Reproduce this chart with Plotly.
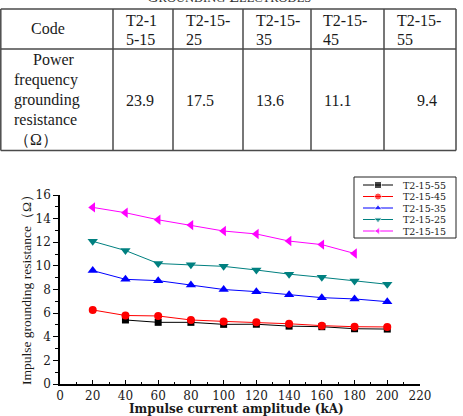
import plotly.graph_objects as go

W, H = 463, 416

# ---- table data ----
table_title = "GROUNDING ELECTRODES"
code_header = "Code"
codes_lines = [["T2-1", "5-15"], ["T2-15-", "25"], ["T2-15-", "35"], ["T2-15-", "45"], ["T2-15-", "55"]]
row_label_lines = ["Power", "frequency", "grounding", "resistance", "（Ω）"]
pf_resistance = ["23.9", "17.5", "13.6", "11.1", "9.4"]

# ---- chart data ----
series_names = ["T2-15-55", "T2-15-45", "T2-15-35", "T2-15-25", "T2-15-15"]
x55 = [40, 60, 80, 100, 120, 140, 160, 180, 200]
r55 = [5.42, 5.22, 5.22, 5.05, 5.06, 4.9, 4.85, 4.68, 4.65]
x45 = [20, 40, 60, 80, 100, 120, 140, 160, 180, 200]
r45 = [6.27, 5.8, 5.76, 5.42, 5.3, 5.22, 5.1, 4.94, 4.85, 4.83]
x35 = [20, 40, 60, 80, 100, 120, 140, 160, 180, 200]
r35 = [9.6, 8.86, 8.75, 8.38, 8.0, 7.82, 7.56, 7.31, 7.2, 6.97]
x25 = [20, 40, 60, 80, 100, 120, 140, 160, 180, 200]
r25 = [12.08, 11.3, 10.2, 10.1, 9.96, 9.65, 9.3, 9.03, 8.72, 8.44]
x15 = [20, 40, 60, 80, 100, 120, 140, 160, 180]
r15 = [14.95, 14.5, 13.9, 13.45, 12.95, 12.7, 12.1, 11.8, 11.05]

xs = [x55, x45, x35, x25, x15]
ys = [r55, r45, r35, r25, r15]
colors = ["#000000", "#FF0000", "#0000FF", "#008080", "#FF00FF"]
symbols = ["square", "circle", "triangle-up", "triangle-down", "triangle-left"]
msizes = [7, 8, 9, 9, 9]

SERIF = "Liberation Serif"
WIDE = "DejaVu Serif"
TXT = "#1a1a1a"


def px(x):
    return x / W


def py(y):
    return 1 - y / H


fig = go.Figure()

for name, x, y, c, s, ms in zip(series_names, xs, ys, colors, symbols, msizes):
    fig.add_trace(go.Scatter(
        x=x, y=y, name=name, mode="lines+markers",
        line=dict(color=c, width=1),
        marker=dict(symbol=s, size=ms, color=c),
        showlegend=False, xaxis="x", yaxis="y",
    ))

# manual legend on a pixel-coordinate overlay axis
leg_box = (354, 177, 456, 238)
leg_rows = [185, 196.5, 208, 219.5, 231]
for name, c, s, ly in zip(series_names, colors, symbols, leg_rows):
    fig.add_trace(go.Scatter(
        x=[363, 378, 393], y=[ly, ly, ly], mode="lines+markers",
        line=dict(color=c, width=1),
        marker=dict(symbol=s, size=[0, 7, 0], color=c),
        showlegend=False, xaxis="x2", yaxis="y2", hoverinfo="skip",
    ))

shapes = []
annotations = []

# legend box and texts
shapes.append(dict(type="rect", xref="paper", yref="paper",
                   x0=px(leg_box[0]), x1=px(leg_box[2]), y0=py(leg_box[1]), y1=py(leg_box[3]),
                   line=dict(color="#222", width=1), fillcolor="rgba(0,0,0,0)"))
for name, ly in zip(series_names, leg_rows):
    annotations.append(dict(text=name, x=px(401), y=py(ly), xref="paper", yref="paper",
                            xanchor="left", yanchor="middle", showarrow=False,
                            font=dict(family=WIDE, size=9.5, color=TXT)))

# table grid
col_x = [0.8, 113, 173, 243, 311, 384, 456]
row_y = [9, 49, 150.5]
lc = "#4a4a4a"
for yy in row_y:
    shapes.append(dict(type="line", xref="paper", yref="paper",
                       x0=px(col_x[0]), x1=px(col_x[-1]), y0=py(yy), y1=py(yy),
                       line=dict(color=lc, width=1.5)))
for xx in col_x:
    shapes.append(dict(type="line", xref="paper", yref="paper",
                       x0=px(xx), x1=px(xx), y0=py(row_y[0]), y1=py(row_y[-1]),
                       line=dict(color=lc, width=1.5)))

tfont = dict(family=SERIF, size=16, color=TXT)


def ann(text, x, y, anchor="left", font=tfont):
    annotations.append(dict(text=text, x=px(x), y=py(y), xref="paper", yref="paper",
                            xanchor=anchor, yanchor="middle", showarrow=False, font=font))


# table title (cut at top edge)
ann("G<span style='font-size:12.5px'>ROUNDING</span> E<span style='font-size:12.5px'>LECTRODES</span>",
    229, -3, anchor="center", font=dict(family=SERIF, size=16, color="#333"))

ann(code_header, 48, 29, anchor="center")
text_left = [124, 184, 254, 321, 395]
for lines, xl in zip(codes_lines, text_left):
    ann(lines[0], xl, 20)
    ann(lines[1], xl, 39.5)

label_x = [31, 12, 12, 12, 12]
label_y = [60, 80, 100, 119.5, 139]
for t, xl, yl in zip(row_label_lines, label_x, label_y):
    ann(t, xl, yl)

val_x = [124, 184, 254, 322, 415]
for v, xl in zip(pf_resistance, val_x):
    ann(v, xl, 100)

# axis titles
ann("<b>Impulse current amplitude (kA)</b>", 236, 408.5, anchor="center",
    font=dict(family=WIDE, size=12, color=TXT))
annotations.append(dict(text="Impulse grounding resistance（Ω）", x=px(26), y=py(287),
                        xref="paper", yref="paper", xanchor="center", yanchor="middle",
                        textangle=-90, showarrow=False,
                        font=dict(family=SERIF, size=13.5, color=TXT)))

tickfont = dict(family=WIDE, size=12, color=TXT)

fig.update_layout(
    width=W, height=H,
    margin=dict(l=0, r=0, t=0, b=0),
    paper_bgcolor="white", plot_bgcolor="rgba(0,0,0,0)",
    showlegend=False,
    shapes=shapes, annotations=annotations,
    xaxis=dict(domain=[60 / W, 420 / W], range=[0, 220], tickvals=list(range(0, 221, 20)),
               ticks="inside", ticklen=4, tickwidth=1.2, tickcolor="#000",
               minor=dict(dtick=10, tick0=0, ticks="inside", ticklen=2.5, tickwidth=1, tickcolor="#000"),
               showline=True, linecolor="#000", linewidth=1.5, showgrid=False, zeroline=False,
               tickfont=tickfont, automargin=False, anchor="y", fixedrange=True),
    yaxis=dict(domain=[32 / H, 221 / H], range=[0, 16], tickvals=list(range(0, 17, 2)),
               ticks="outside", ticklen=5, tickwidth=1.2, tickcolor="#000",
               minor=dict(dtick=1, tick0=0, ticks="outside", ticklen=3, tickwidth=1, tickcolor="#000"),
               showline=True, linecolor="#000", linewidth=1.5, showgrid=False, zeroline=False,
               tickfont=tickfont, automargin=False, anchor="x", fixedrange=True),
    xaxis2=dict(domain=[0, 1], range=[0, W], visible=False, anchor="y2", fixedrange=True),
    yaxis2=dict(domain=[0, 1], range=[H, 0], visible=False, anchor="x2", fixedrange=True),
)

fig.write_html("out.html")
